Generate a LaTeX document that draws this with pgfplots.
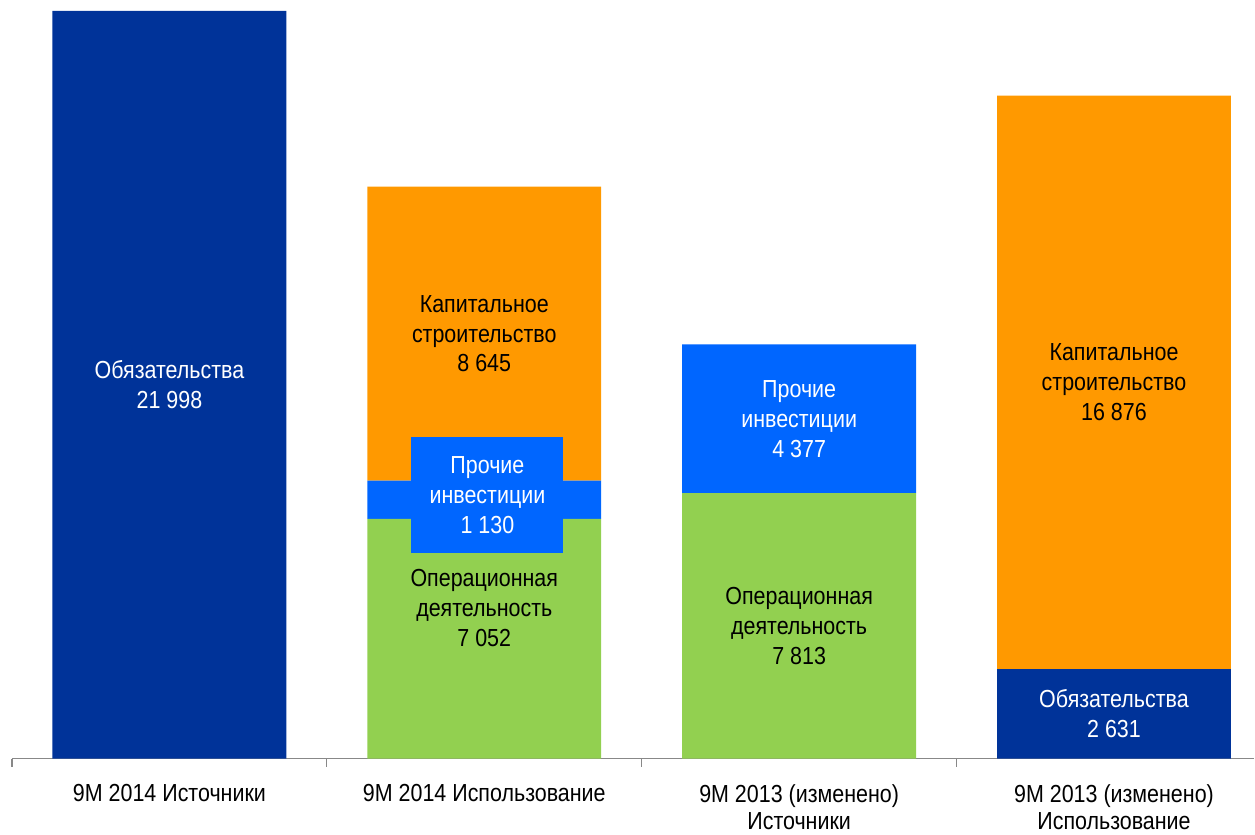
\documentclass[border=0pt]{standalone}
\usepackage{fontspec}
\setmainfont{Liberation Sans}[FakeStretch=0.87]
\usepackage{pgfplots}
\pgfplotsset{compat=1.18}
\definecolor{cdark}{HTML}{003399}
\definecolor{cblue}{HTML}{0066FF}
\definecolor{corange}{HTML}{FF9900}
\definecolor{cgreen}{HTML}{92D050}
\definecolor{caxis}{HTML}{888888}
\tikzset{lbl/.style={align=center,font=\fontsize{18.5}{22.5}\selectfont}}
\begin{document}
\begin{tikzpicture}
\begin{axis}[
  scale only axis,
  width=932.25pt, height=569.25pt,
  xmin=-0.5, xmax=3.446,
  ymin=0, ymax=22321,
  ybar stacked,
  bar width=175.5pt,
  clip=false,
  axis y line=none,
  axis x line=bottom,
  x axis line style={-,caxis,line width=0.9pt},
  xtick={0,1,2,3},
  xticklabels={{9M 2014 Источники},{9M 2014 Использование},{9M 2013 (изменено)\\Источники},{9M 2013 (изменено)\\Использование}},
  xticklabel style={align=center,font=\fontsize{18.5}{20.5}\selectfont,yshift=-16pt},
  major tick length=0pt,
  extra x ticks={-0.5,0.5,1.5,2.5},
  extra x tick labels={},
  extra x tick style={major tick length=6pt, tick align=outside, tick style={caxis,line width=0.9pt}},
]
\addplot[fill=cdark,draw=none] coordinates {(0,21998) (1,0) (2,0) (3,2631)};
\addplot[fill=cgreen,draw=none] coordinates {(0,0) (1,7052) (2,7813) (3,0)};
\addplot[fill=cblue,draw=none] coordinates {(0,0) (1,1130) (2,4377) (3,0)};
\addplot[fill=corange,draw=none] coordinates {(0,0) (1,8645) (2,0) (3,16876)};
\coordinate (SW) at (rel axis cs:0,0);
\coordinate (NE) at (rel axis cs:1,1);
\coordinate (L1) at (axis cs:0,10999);
\coordinate (L2) at (axis cs:1,12504);
\coordinate (L3) at (axis cs:1.01,7765);
\coordinate (L4) at (axis cs:1,4441);
\coordinate (L5) at (axis cs:2,10001);
\coordinate (L6) at (axis cs:2,3906);
\coordinate (L7) at (axis cs:3,11069);
\coordinate (L8) at (axis cs:3,1315);
\end{axis}
\node[lbl,text=white] at (L1) {Обязательства\\21 998};
\node[lbl] at (L2) {Капитальное\\строительство\\8 645};
\node[lbl,text=white,fill=cblue,minimum width=114pt,minimum height=87pt,inner sep=0pt] at (L3) {Прочие\\инвестиции\\1 130};
\node[lbl] at (L4) {Операционная\\деятельность\\7 052};
\node[lbl,text=white] at (L5) {Прочие\\инвестиции\\4 377};
\node[lbl] at (L6) {Операционная\\деятельность\\7 813};
\node[lbl] at (L7) {Капитальное\\строительство\\16 876};
\node[lbl,text=white] at (L8) {Обязательства\\2 631};
\path (SW) ++(-9pt,-57pt) coordinate (BBL);
\useasboundingbox (BBL) rectangle (NE);
\end{tikzpicture}
\end{document}
